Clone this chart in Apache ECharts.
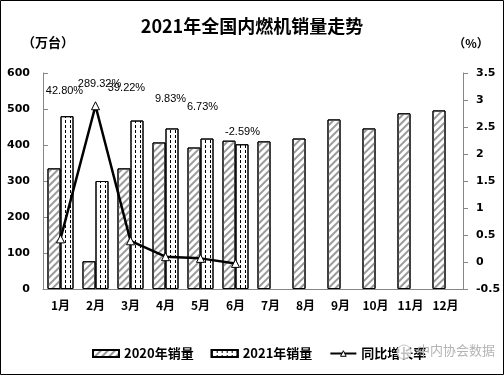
<!DOCTYPE html>
<html>
<head>
<meta charset="utf-8">
<script src="https://cdn.jsdelivr.net/npm/echarts@6/dist/echarts.min.js"></script>
<style>
  html, body { margin: 0; padding: 0; background: #fff; }
  #chart { width: 504px; height: 375px; }
</style>
</head>
<body>
<div id="chart"></div>
<script>
// 数据
const months = ['1月', '2月', '3月', '4月', '5月', '6月', '7月', '8月', '9月', '10月', '11月', '12月'];
const sales2020 = [335, 77, 335, 407, 393, 412, 410, 418, 471, 446, 488, 496];
const sales2021 = [480, 300, 468, 446, 418, 402];
const growthPct = [42.80, 289.32, 39.22, 9.83, 6.73, -2.59];

// 标签偏移（样式）
const labelOffsets = [[4, -148], [4, -22], [-4, -153], [5, -158], [2, -151], [7, -131]];

const cjk = 'Noto Sans CJK SC';
const axisColor = '#868686';

const chart = echarts.init(document.getElementById('chart'));

const option = {
    animation: false,
    backgroundColor: '#fff',
    title: {
        text: '2021年全国内燃机销量走势',
        left: 'center',
        top: 12,
        textStyle: { fontFamily: cjk, fontSize: 18, fontWeight: 'bold', color: '#000' }
    },
    legend: {
        left: 87,
        top: 342,
        itemWidth: 26,
        itemHeight: 7,
        itemGap: 17,
        textStyle: { fontFamily: cjk, fontSize: 13, fontWeight: 'bold', color: '#000' },
        data: [
            { name: '2020年销量', icon: 'rect' },
            { name: '2021年销量', icon: 'rect' },
            { name: '同比增长率', itemStyle: { color: '#fff', borderColor: '#000', borderWidth: 1 } }
        ]
    },
    grid: { left: 43, right: 41, top: 73, bottom: 86 },
    xAxis: {
        type: 'category',
        data: months,
        axisLine: { lineStyle: { color: axisColor } },
        axisTick: { inside: true, length: 5, lineStyle: { color: axisColor } },
        axisLabel: { fontFamily: cjk, fontSize: 12, fontWeight: 'bold', color: '#000', margin: 10 }
    },
    yAxis: [
        {
            type: 'value',
            min: 0,
            max: 600,
            interval: 100,
            name: '（万台）',
            nameGap: 24,
            nameTextStyle: { fontFamily: cjk, fontSize: 13, fontWeight: 'bold', color: '#000', padding: [0, 0, 0, 10] },
            axisLine: { show: true, lineStyle: { color: axisColor } },
            axisTick: { show: true, inside: true, length: 5, lineStyle: { color: axisColor } },
            axisLabel: { fontFamily: 'DejaVu Sans', fontSize: 11, fontWeight: 'bold', color: '#000', margin: 13 },
            splitLine: { show: false }
        },
        {
            type: 'value',
            min: -0.5,
            max: 3.5,
            interval: 0.5,
            name: '（%）',
            nameGap: 24,
            nameTextStyle: { fontFamily: cjk, fontSize: 12, fontWeight: 'bold', color: '#000', padding: [0, 0, 0, 16] },
            axisLine: { show: true, lineStyle: { color: axisColor } },
            axisTick: { show: true, length: 5, lineStyle: { color: axisColor } },
            axisLabel: { fontFamily: 'DejaVu Sans', fontSize: 11, fontWeight: 'bold', color: '#000', margin: 13 },
            splitLine: { show: false }
        }
    ],
    series: [
        {
            name: '2020年销量',
            type: 'bar',
            barWidth: 13,
            barGap: '0%',
            data: sales2020,
            itemStyle: {
                color: '#fff',
                borderColor: '#000',
                borderWidth: 1,
                decal: {
                    symbol: 'rect',
                    symbolSize: 1,
                    color: '#9a9a9a',
                    dashArrayX: [1, 0],
                    dashArrayY: [1.5, 2.5],
                    rotation: -Math.PI / 4
                }
            }
        },
        {
            name: '2021年销量',
            type: 'bar',
            barWidth: 13,
            barGap: '0%',
            data: sales2021,
            itemStyle: {
                color: '#fff',
                borderColor: '#000',
                borderWidth: 1,
                decal: {
                    symbol: 'rect',
                    symbolSize: 1,
                    color: '#000',
                    dashArrayX: [1, 4],
                    dashArrayY: [3, 2],
                    rotation: 0
                }
            }
        },
        {
            name: '同比增长率',
            type: 'line',
            yAxisIndex: 1,
            data: growthPct.map((v, i) => ({
                value: v / 100,
                label: { offset: labelOffsets[i] }
            })),
            symbol: 'triangle',
            symbolSize: 8,
            lineStyle: { color: '#000', width: 2.5 },
            itemStyle: { color: '#fff', borderColor: '#000', borderWidth: 1 },
            label: {
                show: true,
                position: 'inside',
                fontFamily: 'Liberation Sans',
                fontSize: 11,
                color: '#000',
                formatter: p => growthPct[p.dataIndex].toFixed(2) + '%'
            },
            z: 5
        }
    ],
    graphic: [
        {
            type: 'rect',
            shape: { x: 0.5, y: 0.5, width: 503, height: 374 },
            style: { fill: 'none', stroke: '#000', lineWidth: 1 },
            silent: true
        },
        {
            type: 'circle',
            shape: { cx: 404, cy: 352, r: 7 },
            style: { fill: 'rgba(255,255,255,0.75)', stroke: '#c8c8c8', lineWidth: 1 },
            z: 100
        },
        {
            type: 'text',
            left: 417,
            top: 344,
            style: { text: '中内协会数据', fill: '#b4b4b4', font: '13px "Noto Sans CJK SC"' },
            z: 100
        }
    ]
};

chart.setOption(option);
</script>
</body>
</html>
